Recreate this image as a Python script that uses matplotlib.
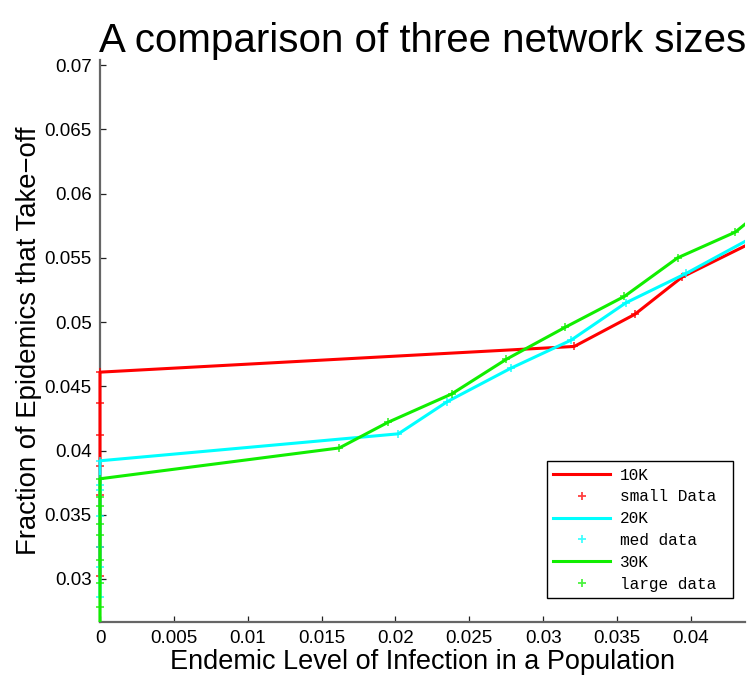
import matplotlib
matplotlib.use("Agg")
import matplotlib.pyplot as plt
from matplotlib.transforms import Bbox, TransformedBbox

# Fraction of epidemics that take off vs. endemic infection level, three network sizes
small_x = [0, 0, 0, 0, 0, 0, 0, 0.0321, 0.0362, 0.0394, 0.0445]
small_y = [0.0302, 0.0325, 0.0365, 0.0388, 0.0412, 0.0437, 0.0461,
           0.0481, 0.0506, 0.0535, 0.0564]

med_x = [0, 0, 0, 0, 0, 0, 0, 0.0202, 0.0235, 0.0278, 0.0319, 0.0356, 0.0397, 0.0445]
med_y = [0.0286, 0.0309, 0.0325, 0.0349, 0.0369, 0.0373, 0.0392,
         0.0413, 0.0438, 0.0464, 0.0486, 0.0515, 0.0538, 0.0568]

large_x = [0, 0, 0, 0, 0, 0, 0, 0, 0,
           0.0162, 0.0195, 0.0238, 0.0275, 0.0315, 0.0355, 0.0391, 0.0430, 0.0445]
large_y = [0.0262, 0.0278, 0.0297, 0.0315, 0.0334, 0.0343, 0.0357, 0.0364, 0.0378,
           0.0402, 0.0422, 0.0444, 0.0471, 0.0496, 0.0520, 0.0550, 0.0570, 0.0584]

series_names = ["10K", "small Data", "20K", "med data", "30K", "large data"]

x_ticks = [0, 0.005, 0.01, 0.015, 0.02, 0.025, 0.03, 0.035, 0.04]
x_tick_labels = ["0", "0.005", "0.01", "0.015", "0.02", "0.025", "0.03", "0.035", "0.04"]
y_ticks = [0.03, 0.035, 0.04, 0.045, 0.05, 0.055, 0.06, 0.065, 0.07]
y_tick_labels = ["0.03", "0.035", "0.04", "0.045", "0.05", "0.055", "0.06", "0.065", "0.07"]

sans = ["Liberation Sans", "DejaVu Sans"]
mono = ["Liberation Mono", "DejaVu Sans Mono"]

fig = plt.figure(figsize=(7.53, 6.8), dpi=100)
ax = fig.add_axes([100 / 753, 58 / 680, 645 / 753, 562 / 680])

red, cyan, green = "#ff0000", "#00ffff", "#11ee00"
lw = 2.2
ms = 5.5

artists = []
artists += ax.plot(small_x, small_y, "-", color=red, lw=lw, label=series_names[0])
artists += ax.plot(small_x, small_y, "+", color=red, ms=ms, mew=1.3, alpha=0.75, label=series_names[1])
artists += ax.plot(med_x, med_y, "-", color=cyan, lw=lw, label=series_names[2])
artists += ax.plot(med_x, med_y, "+", color=cyan, ms=ms, mew=1.3, alpha=0.75, label=series_names[3])
artists += ax.plot(large_x, large_y, "-", color=green, lw=lw, label=series_names[4])
artists += ax.plot(large_x, large_y, "+", color=green, ms=ms, mew=1.3, alpha=0.75, label=series_names[5])

# let the marks at x = 0 sit fully on top of the left axis line
clip = TransformedBbox(Bbox([[-0.02, 0.0], [1.0, 1.0]]), ax.transAxes)
for a in artists:
    a.set_clip_box(clip)
    a.set_zorder(3)

ax.set_xlim(0, 0.04366)
ax.set_ylim(0.02665, 0.0704)

ax.set_xticks(x_ticks)
ax.set_xticklabels(x_tick_labels, fontfamily=sans, fontsize=13.5)
ax.set_yticks(y_ticks)
ax.set_yticklabels(y_tick_labels, fontfamily=sans, fontsize=13.5)
ax.tick_params(direction="in", length=4, width=0.9, color="#222222", pad=6)

for side in ("top", "right"):
    ax.spines[side].set_visible(False)
for side in ("left", "bottom"):
    ax.spines[side].set_color("#666666")
    ax.spines[side].set_linewidth(1.6)
    ax.spines[side].set_zorder(2)

ax.set_title("A comparison of three network sizes", fontfamily=sans, fontsize=29.0, pad=6)
ax.set_xlabel("Endemic Level of Infection in a Population", fontfamily=sans, fontsize=19.5, labelpad=1)
ax.set_ylabel("Fraction of Epidemics that Take\u2212off", fontfamily=sans, fontsize=19.8, labelpad=2)

leg = ax.legend(loc="lower left", bbox_to_anchor=(547 / 753, 82 / 680, 186 / 753, 138 / 680),
                bbox_transform=fig.transFigure, mode="expand",
                prop={"family": mono, "size": 11.6}, frameon=True, fancybox=False,
                edgecolor="black", framealpha=1, handlelength=3.5, handletextpad=0.6,
                labelspacing=0.42, borderpad=0.4, borderaxespad=0)
leg.get_frame().set_linewidth(1.0)
leg.set_zorder(5)

fig.savefig("out.png", dpi=100)
